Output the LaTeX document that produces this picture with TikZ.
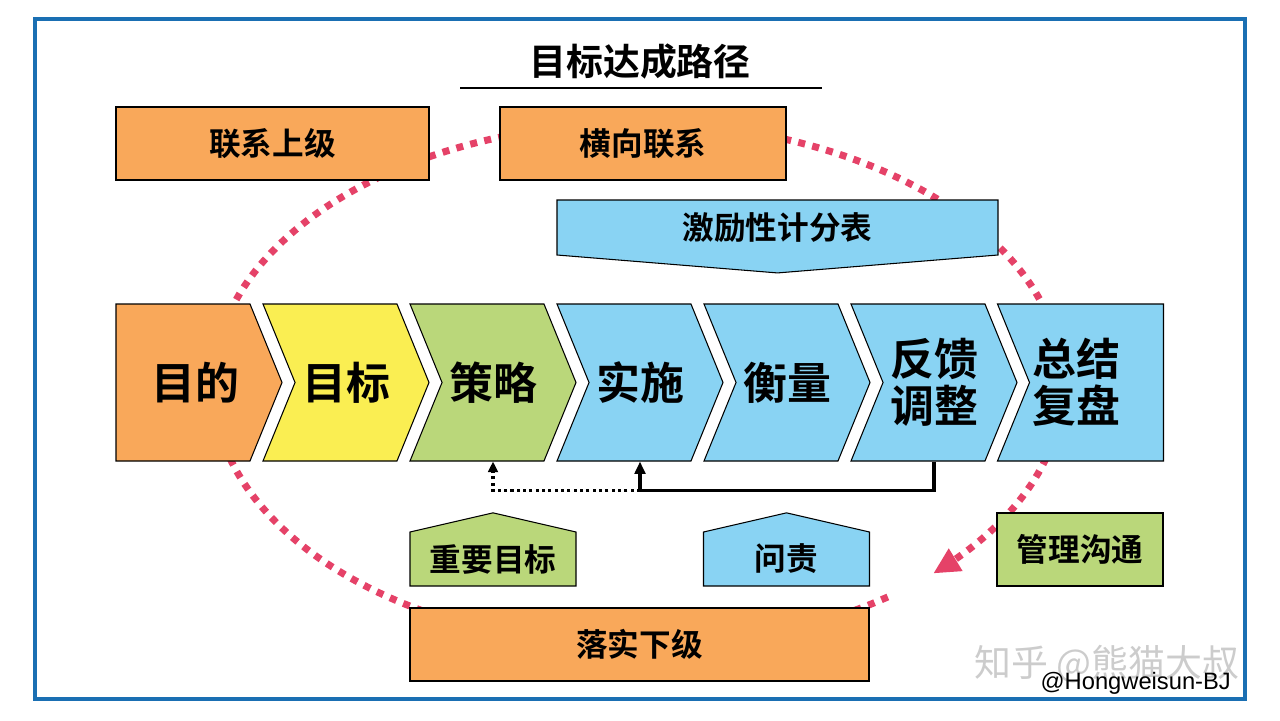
\documentclass[tikz,border=0pt]{standalone}
\usepackage{fontspec}
\setmainfont{Noto Sans CJK SC}[BoldFont=* Bold]
\newfontfamily\latinfont{Liberation Sans}
\usetikzlibrary{arrows.meta,positioning,shapes.symbols,backgrounds}

\definecolor{frameblue}{RGB}{26,111,179}
\definecolor{boxorange}{RGB}{249,168,90}
\definecolor{boxyellow}{RGB}{250,238,82}
\definecolor{boxgreen}{RGB}{186,215,122}
\definecolor{boxblue}{RGB}{137,211,243}
\definecolor{loopred}{RGB}{229,66,104}

\newcommand{\px}{0.02cm}

\begin{document}
\begin{tikzpicture}[
  x=\px, y=-\px,
  boxtext/.style={font=\fontsize{18}{20}\selectfont\bfseries},
  box/.style={draw, line width=0.6pt, minimum height=73*\px, inner sep=0pt, boxtext},
  chevtext/.style={align=center, font=\fontsize{25}{27}\selectfont\bfseries},
  chev/.style={signal, signal pointer angle=135.6, draw, line width=0.6pt, minimum width=166*\px, minimum height=157*\px, inner sep=0pt, chevtext},
  upbox/.style={signal, signal to=north, signal pointer angle=154, draw, line width=0.6pt, minimum width=166*\px, minimum height=54*\px, inner sep=0pt},
  fbline/.style={-{Triangle[length=7pt,width=6pt]}, line width=2pt},
  fbdot/.style={-{Triangle[length=6pt,width=5.5pt]}, line width=1.8pt, dash pattern=on 1.8pt off 1.8pt}
]
\useasboundingbox (0,0) rectangle (1280,720);

% Frame
\draw[frameblue, line width=2.3pt] (35,19) rectangle (1245,699);

% Title
\node[font=\fontsize{21}{24}\selectfont\bfseries] (title) at (640,62) {目标达成路径};
\draw[line width=1.4pt] (460,88) -- (822,88);

% Top boxes
\node[box, fill=boxorange, minimum width=313*\px] (shangji) at (272.5,143.5) {联系上级};
\node[box, fill=boxorange, minimum width=286*\px] (hengxiang) at (643,143.5) {横向联系};
\node[signal, signal to=south, signal pointer angle=170.7, draw, line width=0.6pt, fill=boxblue,
      minimum width=441*\px, minimum height=55*\px, inner sep=0pt,
      label={[boxtext]center:激励性计分表}] (jili) at (777.5,227.5) {};

% Process chevrons
\node[chev, fill=boxorange, label={[chevtext, xshift=12*\px]center:目的}] (mudi) at (183,382.5) {};
\node[chev, signal from=west, fill=boxyellow] (mubiao) at (346,382.5) {目标};
\node[chev, signal from=west, fill=boxgreen] (celue) at (493,382.5) {策略};
\node[chev, signal from=west, fill=boxblue] (shishi) at (640,382.5) {实施};
\node[chev, signal from=west, fill=boxblue] (hengliang) at (787,382.5) {衡量};
\node[chev, signal from=west, fill=boxblue] (fankui) at (934,382.5) {反馈\\调整};
\node[chev, signal from=west, signal to=nowhere, fill=boxblue,
      label={[chevtext, xshift=-20*\px]center:总结\\复盘}] (zongjie) at (1096.5,382.5) {};

% Feedback
\path (shishi.south) ++(0,29) coordinate (turn);
\draw[fbline] (fankui.south) |- (turn) -- (shishi.south);
\draw[fbdot] (turn) -| (celue.south);

% Bottom boxes
\node[upbox, fill=boxgreen, label={[boxtext]center:重要目标}] (zhongyao) at (493,559) {};
\node[upbox, fill=boxblue, label={[boxtext]center:问责}] (wenze) at (786.5,559) {};
\node[box, fill=boxgreen, minimum width=166*\px] (guanli) at (1080,549.5) {管理沟通};
\node[box, fill=boxorange, minimum width=459*\px] (luoshi) at (639.5,644.5) {落实下级};

% Loop
\begin{scope}[on background layer]
\draw[loopred, line width=4pt, dash pattern=on 4pt off 4.2pt, -{Triangle[length=15pt,width=14pt]}]
  plot[domain=54:406, samples=150, smooth] ({638+425*cos(\x)}, {385+262*sin(\x)});
\end{scope}

% Marks
\node[text=gray!40, font=\fontsize{21}{23}\selectfont] (zhihu) at (1107,664) {知乎 @熊猫大叔};
\node[font=\latinfont\fontsize{13.5}{15}\selectfont, anchor=east] (credit) at (1237,683) {@Hongweisun-BJ};

\end{tikzpicture}
\end{document}
